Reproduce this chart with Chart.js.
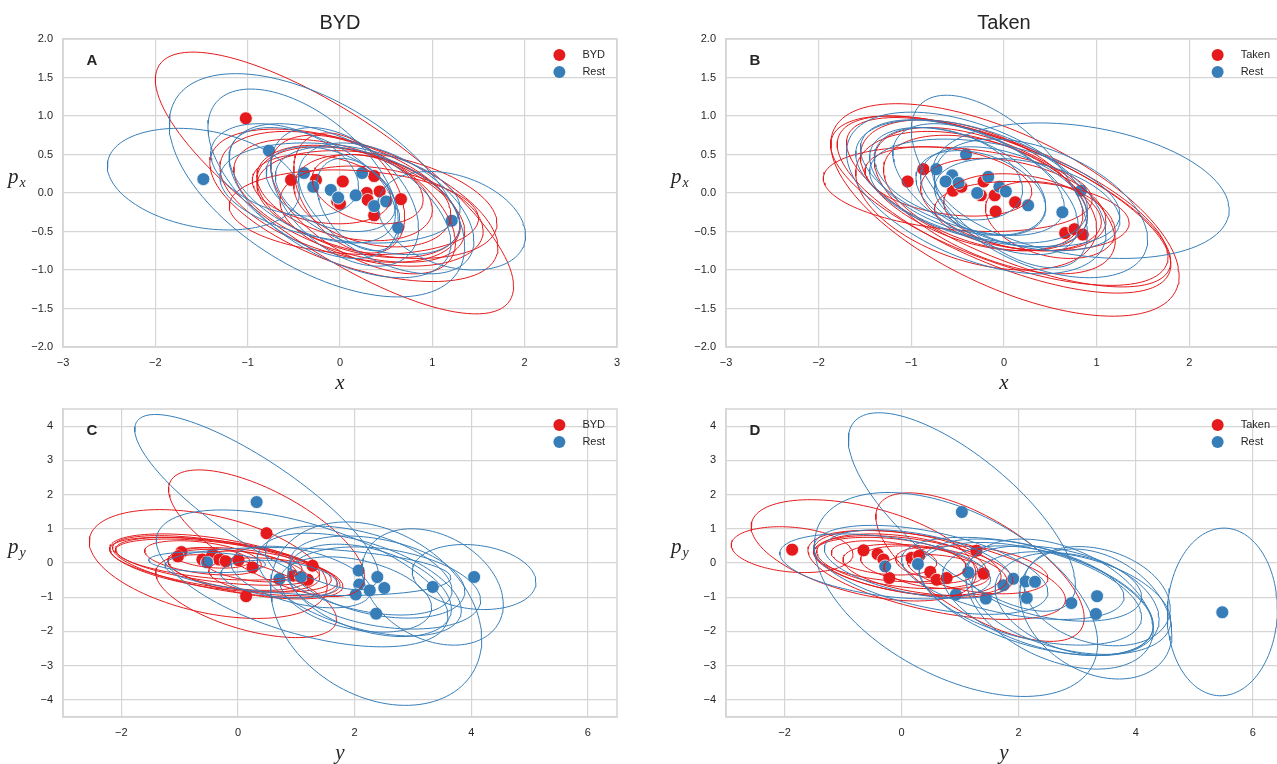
<!DOCTYPE html>
<html>
<head>
<meta charset="utf-8">
<script src="https://cdn.jsdelivr.net/npm/chart.js@4.4.0/dist/chart.umd.min.js"></script>
<style>
body { margin: 0; background: #fff; overflow: hidden; width: 1277px; height: 764px; position: relative; }
canvas { position: absolute; }
</style>
</head>
<body>
<canvas id="panelA" width="640" height="390" style="left:0;top:0"></canvas>
<canvas id="panelB" width="660" height="390" style="left:640px;top:0"></canvas>
<canvas id="panelC" width="640" height="374" style="left:0;top:390px"></canvas>
<canvas id="panelD" width="660" height="374" style="left:640px;top:390px"></canvas>
<script>
const RED = '#e41a1c'
const BLUE = '#377eb8'
const GRID = '#d5d5d5'
const TEXT = '#262626'

// tick values
const topXTicks = [-3, -2, -1, 0, 1, 2, 3]
const topYTicks = [-2, -1.5, -1, -0.5, 0, 0.5, 1, 1.5, 2]
const bottomXTicks = [-2, 0, 2, 4, 6]
const bottomYTicks = [-4, -3, -2, -1, 0, 1, 2, 3, 4]

// ellipses are [cx, cy, half width in x, half height in y, tilt (correlation)]

// panel A: x vs p_x, BYD
const aBydX = [-1.02, -0.53, -0.26, 0.03, -0.03, 0.00, 0.37, 0.29, 0.43, 0.30, 0.37, 0.66]
const aBydY = [0.97, 0.17, 0.17, 0.15, -0.11, -0.14, 0.22, 0.00, 0.02, -0.09, -0.29, -0.08]
const aRestX = [-1.48, -0.77, -0.39, -0.29, -0.10, -0.02, 0.17, 0.24, 0.37, 0.50, 0.63, 1.21]
const aRestY = [0.18, 0.55, 0.26, 0.08, 0.04, -0.06, -0.03, 0.26, -0.17, -0.11, -0.45, -0.36]
const aBydEll = [
    [-0.06, 0.13, 1.94, 1.70, -0.79], [0.15, -0.16, 1.56, 0.99, -0.55],
    [0.00, -0.05, 1.30, 0.85, -0.45], [0.10, -0.10, 1.25, 0.80, -0.50],
    [0.20, -0.12, 1.10, 0.72, -0.40], [0.25, -0.15, 1.00, 0.90, -0.55],
    [0.05, 0.00, 0.95, 0.62, -0.35], [0.35, -0.10, 0.85, 0.60, -0.30],
    [-0.20, 0.05, 0.75, 0.45, -0.25], [0.30, 0.05, 0.60, 0.45, -0.30],
    [0.40, -0.15, 1.30, 0.70, -0.35], [0.15, -0.25, 1.35, 0.55, -0.15],
    [0.45, -0.30, 1.10, 0.65, -0.30], [0.10, 0.00, 0.60, 0.78, -0.40]
]
const aRestEll = [
    [-1.48, 0.18, 1.04, 0.66, -0.26], [-0.25, 0.10, 1.60, 1.45, -0.55],
    [-0.40, 0.25, 1.03, 1.10, -0.55], [1.21, -0.36, 0.80, 0.64, -0.30],
    [0.00, -0.10, 1.20, 1.00, -0.55], [0.05, -0.05, 0.80, 0.90, -0.45],
    [-0.10, 0.05, 0.70, 0.55, -0.40], [0.30, -0.10, 1.00, 0.70, -0.45],
    [-0.30, 0.10, 0.90, 0.75, -0.50], [0.50, -0.20, 0.95, 0.85, -0.50],
    [0.20, -0.15, 0.45, 0.60, -0.40], [0.00, 0.00, 1.30, 0.65, -0.30],
    [-0.60, 0.30, 0.80, 0.60, -0.35]
]

// panel B: x vs p_x, Taken
const bTakenX = [-1.04, -0.87, -0.55, -0.46, -0.22, -0.25, -0.10, -0.09, 0.12, 0.66, 0.76, 0.85]
const bTakenY = [0.15, 0.31, 0.03, 0.08, 0.15, -0.03, -0.03, -0.24, -0.12, -0.52, -0.47, -0.54]
const bRestX = [-0.73, -0.56, -0.63, -0.49, -0.41, -0.29, -0.17, -0.05, 0.02, 0.26, 0.63, 0.83]
const bRestY = [0.31, 0.23, 0.15, 0.13, 0.50, 0.00, 0.21, 0.08, 0.02, -0.16, -0.25, 0.03]
const bTakenEll = [
    [0.01, -0.22, 1.88, 1.38, -0.62], [0.00, -0.15, 1.80, 1.15, -0.68],
    [0.05, -0.12, 1.75, 1.10, -0.70], [-0.05, -0.10, 1.82, 1.10, -0.66],
    [-0.50, 0.05, 1.45, 0.55, -0.25], [-0.35, 0.10, 1.20, 0.85, -0.45],
    [-0.20, 0.00, 1.10, 0.75, -0.40], [0.10, -0.15, 1.00, 0.60, -0.35],
    [0.20, -0.25, 0.85, 0.50, -0.25], [-0.60, 0.15, 0.90, 0.45, -0.30],
    [0.30, -0.30, 1.05, 0.45, -0.20], [-0.10, -0.10, 1.30, 0.95, -0.55],
    [0.50, -0.35, 0.70, 0.50, -0.30], [-0.30, -0.10, 1.30, 0.90, -0.40]
]
const bRestEll = [
    [0.83, 0.03, 1.60, 0.88, -0.28], [-0.05, 0.15, 0.95, 1.12, -0.60],
    [-0.30, 0.00, 1.40, 1.05, -0.50], [0.40, -0.20, 1.15, 0.90, -0.45],
    [-0.35, 0.15, 1.25, 0.80, -0.45], [-0.45, 0.20, 1.10, 0.75, -0.50],
    [-0.50, 0.15, 0.95, 0.70, -0.45], [-0.20, 0.05, 1.00, 0.85, -0.55],
    [-0.60, 0.25, 0.80, 0.60, -0.35], [0.00, -0.05, 0.90, 0.65, -0.40],
    [-0.25, 0.00, 0.70, 0.55, -0.35], [0.25, -0.15, 1.00, 0.60, -0.35],
    [-0.10, 0.00, 1.35, 0.70, -0.40]
]

// panel C: y vs p_y, BYD
const cBydX = [0.49, -0.97, -1.03, -0.61, -0.44, -0.32, -0.21, 0.01, 0.25, 0.14, 1.28, 0.95, 1.20]
const cBydY = [0.87, 0.32, 0.19, 0.10, 0.24, 0.10, 0.05, 0.08, -0.13, -0.97, -0.08, -0.37, -0.49]
const cRestX = [0.32, -0.53, 0.71, 1.08, 2.07, 2.39, 2.08, 2.26, 2.51, 2.02, 2.37, 3.34, 4.05]
const cRestY = [1.78, 0.02, -0.47, -0.41, -0.22, -0.41, -0.63, -0.80, -0.73, -0.92, -1.48, -0.70, -0.41]
const cBydEll = [
    [0.49, 0.87, 1.68, 1.85, -0.69], [0.14, -0.97, 1.55, 1.21, -0.56],
    [-0.51, -0.03, 2.04, 1.59, -0.41], [-0.40, 0.00, 1.80, 0.85, -0.50],
    [-0.30, -0.05, 1.90, 0.80, -0.55], [-0.35, 0.05, 1.75, 0.70, -0.50],
    [-0.50, 0.10, 1.60, 0.60, -0.45], [-0.20, -0.10, 1.95, 0.90, -0.60],
    [0.30, -0.30, 1.50, 0.75, -0.50], [0.00, -0.20, 1.20, 0.60, -0.40],
    [-0.60, 0.15, 1.00, 0.50, -0.40], [0.60, -0.40, 1.10, 0.55, -0.30],
    [-0.45, 0.15, 0.65, 0.30, -0.30], [0.20, -0.10, 0.80, 0.45, -0.40]
]
const cRestEll = [
    [0.32, 1.78, 2.09, 2.56, -0.83], [2.37, -1.48, 1.81, 2.68, -0.28],
    [4.05, -0.41, 1.06, 0.95, -0.16], [3.34, -0.70, 1.21, 1.70, -0.30],
    [1.10, -0.45, 2.50, 2.00, -0.55], [2.07, -0.22, 1.60, 1.30, -0.45],
    [2.39, -0.41, 1.50, 1.20, -0.35], [2.08, -0.63, 1.75, 1.50, -0.50],
    [2.26, -0.80, 1.40, 1.35, -0.40], [2.51, -0.73, 1.65, 1.20, -0.30],
    [2.02, -0.92, 1.30, 1.10, -0.35], [1.08, -0.41, 1.20, 0.90, -0.45],
    [0.71, -0.47, 1.00, 0.55, -0.30], [-0.53, 0.02, 1.00, 0.30, -0.20],
    [1.20, -0.25, 2.45, 0.70, -0.25]
]

// panel D: y vs p_y, Taken
const dTakenX = [-1.87, -0.65, -0.41, -0.31, -0.21, 0.17, 0.30, 0.49, 0.60, 0.77, 1.28, 1.40]
const dTakenY = [0.39, 0.37, 0.26, 0.10, -0.44, 0.15, 0.21, -0.26, -0.49, -0.44, 0.36, -0.31]
const dRestX = [-0.28, 0.28, 1.03, 1.14, 0.93, 1.44, 1.74, 1.91, 2.12, 2.28, 2.14, 2.90, 3.34, 3.32, 5.48]
const dRestY = [-0.10, -0.03, 1.49, -0.27, -0.92, -1.04, -0.65, -0.46, -0.54, -0.55, -1.02, -1.17, -0.97, -1.49, -1.44]
const dTakenEll = [
    [-1.87, 0.39, 1.04, 0.67, -0.20], [-0.65, 0.37, 1.92, 1.48, -0.47],
    [1.34, -0.12, 1.78, 2.17, -0.68], [0.60, -0.35, 2.20, 1.30, -0.55],
    [0.10, 0.00, 1.60, 0.95, -0.40], [0.20, -0.10, 1.70, 0.90, -0.45],
    [0.00, 0.05, 1.45, 0.80, -0.35], [-0.20, 0.10, 1.30, 0.65, -0.30],
    [0.40, -0.20, 1.40, 0.75, -0.40], [0.30, -0.05, 1.00, 0.55, -0.30],
    [0.60, -0.25, 0.90, 0.50, -0.25], [-0.30, 0.15, 0.90, 0.50, -0.30],
    [0.50, 0.00, 0.60, 0.45, -0.25], [1.30, -0.20, 1.20, 0.70, -0.35]
]
const dRestEll = [
    [1.03, 1.49, 1.94, 2.90, -0.73], [0.93, -0.92, 2.42, 2.98, -0.48],
    [5.48, -1.43, 0.94, 2.45, 0.03], [2.30, -1.00, 2.00, 1.70, -0.50],
    [2.50, -1.10, 1.80, 1.60, -0.45], [2.20, -0.90, 1.90, 1.50, -0.45],
    [2.70, -1.20, 1.60, 1.90, -0.40], [3.00, -1.20, 1.40, 1.50, -0.30],
    [3.34, -0.97, 1.25, 1.45, -0.25], [3.32, -1.49, 1.30, 1.90, -0.30],
    [2.90, -1.17, 1.70, 1.50, -0.35], [2.60, -0.60, 1.50, 1.10, -0.35],
    [-0.28, -0.10, 1.80, 0.95, -0.40], [0.28, -0.03, 1.60, 1.00, -0.45],
    [0.50, -0.20, 2.00, 1.30, -0.50], [1.90, -0.45, 1.90, 1.20, -0.45]
]

// outline of an ellipse in data units, handed to chart.js as a line
function ellipsePoints(e){
    const [cx, cy, wx, wy, rho] = e
    const s = Math.sqrt(1 - rho * rho)
    let pts = []
    for (let i = 0; i <= 120; i++){
        const t = i / 120 * 2 * Math.PI
        pts.push({x: cx + wx * Math.cos(t), y: cy + wy * (rho * Math.cos(t) + s * Math.sin(t))})
    }
    return pts
}

function fmt(decimals){
    return v => (v < 0 ? '\u2212' : '') + Math.abs(v).toFixed(decimals)
}

function axis(min, max, ticks, decimals, isX){
    return {
        type: 'linear', min: min, max: max,
        afterBuildTicks: s => { s.ticks = ticks.map(v => ({value: v})) },
        afterFit: s => { if (isX) s.height = 25; else s.width = 50 },
        ticks: {callback: fmt(decimals), color: TEXT, font: {family: 'Liberation Sans', size: 11},
                padding: isX ? 9 : 10, autoSkip: false, maxRotation: 0},
        grid: {color: GRID, lineWidth: 1.2, drawTicks: false},
        border: {color: GRID, width: 1.5}
    }
}

// titles, panel letter, math axis labels, legend inside the plot
function textPlugin(p){
    return {
        id: 'panelText',
        afterDraw(chart){
            const ctx = chart.ctx
            const a = chart.chartArea
            ctx.save()
            ctx.strokeStyle = GRID
            ctx.lineWidth = 1.5
            ctx.strokeRect(a.left, a.top, a.right - a.left, a.bottom - a.top)
            ctx.fillStyle = TEXT
            const mid = (a.left + a.right) / 2
            if (p.title){
                ctx.font = '20px "Liberation Sans"'
                ctx.textAlign = 'center'
                ctx.textBaseline = 'middle'
                ctx.fillText(p.title, mid, a.top - 16)
            }
            ctx.font = 'bold 15px "Liberation Sans"'
            ctx.textAlign = 'center'
            ctx.textBaseline = 'middle'
            ctx.fillText(p.letter, a.left + 29, a.top + 22)

            ctx.font = 'italic 21px "Liberation Serif"'
            ctx.fillText(p.xLabel, mid, a.bottom + 36)

            ctx.textAlign = 'left'
            ctx.textBaseline = 'alphabetic'
            const yMid = (a.top + a.bottom) / 2 - 10
            const yl = a.left - 55
            ctx.font = 'italic 21px "Liberation Serif"'
            ctx.fillText('p', yl, yMid)
            const pw = ctx.measureText('p').width
            ctx.font = 'italic 14px "Liberation Serif"'
            ctx.fillText(p.xLabel, yl + pw + 1, yMid + 4)

            // legend
            ctx.font = '11px "Liberation Sans"'
            const w = Math.max(...p.names.map(n => ctx.measureText(n).width))
            const tx = a.right - 12 - w
            p.names.forEach((n, i) => {
                const y = a.top + 16 + i * 17
                ctx.fillStyle = p.colors[i]
                ctx.beginPath()
                ctx.arc(tx - 23, y, 6, 0, 2 * Math.PI)
                ctx.fill()
                ctx.fillStyle = TEXT
                ctx.textBaseline = 'middle'
                ctx.fillText(n, tx, y)
            })
            ctx.restore()
        }
    }
}

function makePanel(id, p){
    let datasets = []
    p.groups.forEach((g, k) => {
        datasets.push({
            data: g.x.map((v, i) => ({x: v, y: g.y[i]})),
            backgroundColor: g.color, borderColor: '#ffffff', borderWidth: 0.8,
            pointRadius: 6.5, order: 10 - k
        })
        g.ell.forEach(e => datasets.push({
            data: ellipsePoints(e), showLine: true, borderColor: g.color,
            borderWidth: 1, pointRadius: 0, order: 4 - k
        }))
    })
    return new Chart(id, {
        type: 'scatter',
        data: {datasets: datasets},
        options: {
            responsive: false, animation: false, devicePixelRatio: 1, events: [],
            layout: {padding: p.padding},
            scales: {
                x: axis(p.xMin, p.xMax, p.xTicks, 0, true),
                y: axis(p.yMin, p.yMax, p.yTicks, p.yDec, false)
            },
            plugins: {legend: {display: false}, tooltip: {enabled: false}}
        },
        plugins: [textPlugin(p)]
    })
}

const padLeft = {left: 13, right: 23}
const padRight = {left: 36, right: 18}

makePanel('panelA', {
    title: 'BYD', letter: 'A', xLabel: 'x', names: ['BYD', 'Rest'], colors: [RED, BLUE],
    padding: {...padLeft, top: 39, bottom: 18},
    xMin: -3, xMax: 3, xTicks: topXTicks, yMin: -2, yMax: 2, yTicks: topYTicks, yDec: 1,
    groups: [{x: aBydX, y: aBydY, ell: aBydEll, color: RED}, {x: aRestX, y: aRestY, ell: aRestEll, color: BLUE}]
})
makePanel('panelB', {
    title: 'Taken', letter: 'B', xLabel: 'x', names: ['Taken', 'Rest'], colors: [RED, BLUE],
    padding: {...padRight, top: 39, bottom: 18},
    xMin: -3, xMax: 3, xTicks: topXTicks, yMin: -2, yMax: 2, yTicks: topYTicks, yDec: 1,
    groups: [{x: bTakenX, y: bTakenY, ell: bTakenEll, color: RED}, {x: bRestX, y: bRestY, ell: bRestEll, color: BLUE}]
})
makePanel('panelC', {
    title: '', letter: 'C', xLabel: 'y', names: ['BYD', 'Rest'], colors: [RED, BLUE],
    padding: {...padLeft, top: 19, bottom: 22},
    xMin: -3, xMax: 6.5, xTicks: bottomXTicks, yMin: -4.5, yMax: 4.5, yTicks: bottomYTicks, yDec: 0,
    groups: [{x: cBydX, y: cBydY, ell: cBydEll, color: RED}, {x: cRestX, y: cRestY, ell: cRestEll, color: BLUE}]
})
makePanel('panelD', {
    title: '', letter: 'D', xLabel: 'y', names: ['Taken', 'Rest'], colors: [RED, BLUE],
    padding: {...padRight, top: 19, bottom: 22},
    xMin: -3, xMax: 6.5, xTicks: bottomXTicks, yMin: -4.5, yMax: 4.5, yTicks: bottomYTicks, yDec: 0,
    groups: [{x: dTakenX, y: dTakenY, ell: dTakenEll, color: RED}, {x: dRestX, y: dRestY, ell: dRestEll, color: BLUE}]
})
</script>
</body>
</html>
